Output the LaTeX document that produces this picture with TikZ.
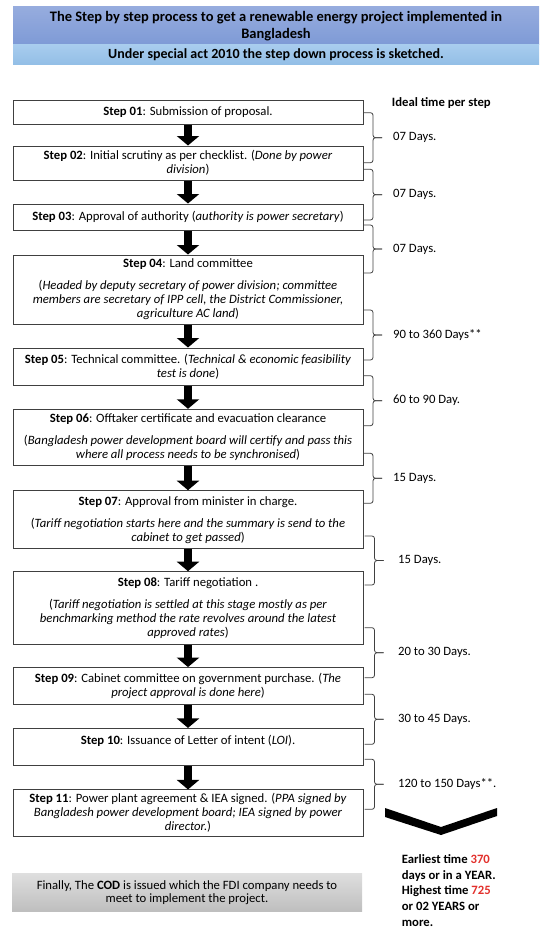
\documentclass[tikz,border=0pt]{standalone}
\usepackage{fontspec}
\setmainfont{Carlito}
\usetikzlibrary{arrows.meta}
\definecolor{bandblue}{RGB}{150,172,222}
\definecolor{bandbluedark}{RGB}{126,154,214}
\definecolor{subblue}{RGB}{168,204,238}
\definecolor{subbluedark}{RGB}{146,190,230}
\definecolor{boxgray}{RGB}{64,64,64}
\definecolor{codtop}{RGB}{222,222,222}
\definecolor{codbottom}{RGB}{190,190,190}
\definecolor{hired}{RGB}{226,48,44}
\begin{document}
\begin{tikzpicture}[x=1pt,y=-1pt,
    stepbox/.style={draw=boxgray, line width=1pt, fill=white, minimum width=350pt,
      align=center, inner sep=2pt, font=\fontsize{12.7}{14}\selectfont},
    blockarrow/.style={line width=8pt, -{Triangle[width=22pt,length=9.5pt]}},
    timelabel/.style={anchor=west, inner sep=0pt, font=\fontsize{12.7}{14}\selectfont}]
  \useasboundingbox (0,0) rectangle (550,934);
  % header
  \node [top color=bandblue, bottom color=bandbluedark, minimum width=526pt, minimum height=38pt,
    align=center, inner sep=0pt, font=\bfseries\fontsize{14.5}{16.6}\selectfont] (title) at (276,26)
    {The Step by step process to get a renewable energy project implemented in\\ Bangladesh};
  \node [top color=subblue, bottom color=subbluedark, minimum width=526pt, minimum height=20pt,
    inner sep=0pt, font=\bfseries\fontsize{14}{15}\selectfont] (sub) at (276,55)
    {Under special act 2010 the step down process is sketched.};
  \node [anchor=west, inner sep=0pt, font=\bfseries\fontsize{12.7}{14}\selectfont] (ideal) at (391.7,102.7) {Ideal time per step};
  % steps
  \node [stepbox, minimum height=24.3pt] (s01) at (188,112.2) {\textbf{Step 01}: Submission of proposal.};
  \node [stepbox, minimum height=34pt] (s02) at (188,163) {\textbf{Step 02}: Initial scrutiny as per checklist. (\textit{Done by power}\\ \textit{division})};
  \node [stepbox, minimum height=26pt] (s03) at (188,217) {\textbf{Step 03}: Approval of authority (\textit{authority is power secretary})};
  \node [stepbox, minimum height=69pt] (s04) at (188,289.5) {\textbf{Step 04}: Land committee\\[8pt]
    (\textit{Headed by deputy secretary of power division; committee}\\
    \textit{members are secretary of IPP cell, the District Commissioner,}\\
    \textit{agriculture AC land})};
  \node [stepbox, minimum height=37pt] (s05) at (188,366.5) {\textbf{Step 05}: Technical committee. (\textit{Technical \& economic feasibility}\\ \textit{test is done})};
  \node [stepbox, minimum height=56.4pt] (s06) at (188,437.5) {\textbf{Step 06}: Offtaker certificate and evacuation clearance\\[8pt]
    (\textit{Bangladesh power development board will certify and pass this}\\
    \textit{where all process needs to be synchronised})};
  \node [stepbox, minimum height=58pt] (s07) at (188,519.7) {\textbf{Step 07}: Approval from minister in charge.\\[8pt]
    (\textit{Tariff negotiation starts here and the summary is send to the}\\
    \textit{cabinet to get passed})};
  \node [stepbox, minimum height=72.6pt] (s08) at (188,608) {\textbf{Step 08}: Tariff negotiation .\\[8pt]
    (\textit{Tariff negotiation is settled at this stage mostly as per}\\
    \textit{benchmarking method the rate revolves around the latest}\\
    \textit{approved rates})};
  \node [stepbox, minimum height=36.8pt] (s09) at (188,686) {\textbf{Step 09}: Cabinet committee on government purchase. (\textit{The}\\ \textit{project approval is done here})};
  \node [stepbox, minimum height=37.5pt] (s10) at (188,747.2) {\textbf{Step 10}: Issuance of Letter of intent (\textit{LOI}).\\ \mbox{}};
  \node [stepbox, minimum height=46.5pt] (s11) at (188,813.2) {\textbf{Step 11}: Power plant agreement \& IEA signed. (\textit{PPA signed by}\\
    \textit{Bangladesh power development board; IEA signed by power}\\
    \textit{director.})};
  \foreach \a/\b in {s01/s02,s02/s03,s03/s04,s04/s05,s05/s06,s06/s07,s07/s08,s08/s09,s09/s10,s10/s11}
    \draw [blockarrow] (\a) -- (\b);
  % time per step
  \foreach \ya/\yb/\dx/\lx/\days in {112.7/162.7/0/393/07 Days., 169.3/220/0/393/07 Days.,
      225/273/0/393/07 Days., 310/360/0/393/90 to 360 Days**, 375.7/425.7/0/393/60 to 90 Day.,
      453.3/503.3/0/393/15 Days., 536/585/1.5/398/15 Days., 627.7/677.7/1.5/398/20 to 30 Days.,
      694.3/744.3/1.5/398/30 to 45 Days., 759.3/809.3/1.5/398/120 to 150 Days**.}{
    \pgfmathsetmacro\ym{(\ya+\yb)/2}
    \draw [boxgray, line width=0.8pt, rounded corners=2.5pt] ({363+\dx},\ya) -- ({373+\dx},\ya) -- ({373+\dx},\ym) -- ({382+\dx},\ym);
    \draw [boxgray, line width=0.8pt, rounded corners=2.5pt] ({363+\dx},\yb) -- ({373+\dx},\yb) -- ({373+\dx},\ym) -- ({382+\dx},\ym);
    \node [timelabel] at (\lx,\ym) {\days};
  }
  \fill (385,808) -- (441,827) -- (497,808) -- (497,816) -- (441,835) -- (385,817) -- cycle;
  \node [anchor=north west, inner sep=0pt, align=left, font=\bfseries\fontsize{12.7}{15.6}\selectfont] (total) at (401.7,854.5)
    {Earliest time \textcolor{hired}{370}\\ days or in a YEAR.\\ Highest time \textcolor{hired}{725}\\ or 02 YEARS or\\ more.};
  % final
  \node [top color=codtop, bottom color=codbottom, minimum width=350pt, minimum height=37.7pt, align=center,
    inner sep=0pt, font=\fontsize{12.7}{13.5}\selectfont] (cod) at (187,892.8)
    {Finally, The \textbf{COD} is issued which the FDI company needs to\\ meet to implement the project.};
\end{tikzpicture}
\end{document}
